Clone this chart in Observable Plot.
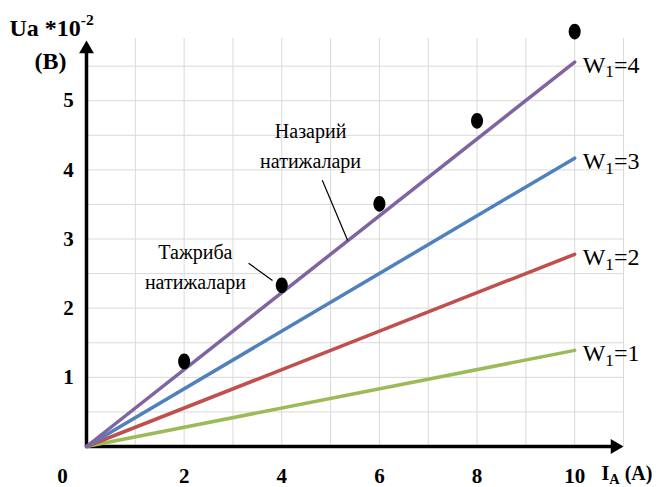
<!DOCTYPE html>
<html>
<head>
<meta charset="utf-8">
<script src="https://cdn.jsdelivr.net/npm/d3@7"></script>
<script src="https://cdn.jsdelivr.net/npm/@observablehq/plot@0.6"></script>
<style>
  html, body { margin: 0; padding: 0; background: #fff; }
</style>
</head>
<body>
<div id="chart"></div>
<script>
// ---- data ----
const seriesLabels = ["W_{1}=1", "W_{1}=2", "W_{1}=3", "W_{1}=4"];
const seriesEndX = 10;
const seriesEndY = [1.39, 2.78, 4.17, 5.56];
const seriesColors = ["#9BBB59", "#C0504D", "#4F81BD", "#8064A2"];

const expX = [2, 4, 6, 8, 10];
const expY = [1.23, 2.33, 3.51, 4.71, 6.0];

const xTicks = [2, 4, 6, 8, 10];
const yTicks = [1, 2, 3, 4, 5];
const xGrid = [1, 2, 3, 4, 5, 6, 7, 8, 9, 10, 11];
const yGrid = [0.5, 1, 1.5, 2, 2.5, 3, 3.5, 4, 4.5, 5, 5.5];

const annLabels = ["Назарий\nнатижалари", "Тажриба\nнатижалари"];
const annX = [4.59, 2.23];
const annY = [4.39, 2.64];
const leaderX1 = [4.83, 3.32];
const leaderY1 = [3.85, 2.65];
const leaderX2 = [5.35, 3.81];
const leaderY2 = [2.98, 2.40];

const yTitle = "Ua *10^{-2}";
const yUnit = "(B)";
const xTitle = "I_{A} (A)";

// ---- derived tables ----
const lineData = seriesLabels.flatMap((s, i) => [
  {s, x: 0, y: 0},
  {s, x: seriesEndX, y: seriesEndY[i]}
]);
const endData = seriesLabels.map((s, i) => ({s, x: seriesEndX, y: seriesEndY[i]}));
const expData = expX.map((x, i) => ({x, y: expY[i]}));
const annData = annLabels.map((t, i) => ({t, x: annX[i], y: annY[i]}));
const leaders = annLabels.map((t, i) => ({x1: leaderX1[i], y1: leaderY1[i], x2: leaderX2[i], y2: leaderY2[i]}));

const XMAX = 11, YMAX = 5.9;
const FONT = "Liberation Serif";

// ellipse symbol (taller than wide)
const ellipse = {
  draw(ctx, size) {
    const r = Math.sqrt(size / Math.PI);
    const rx = r * 0.8, ry = r * 1.05, k = 0.5523;
    ctx.moveTo(0, -ry);
    ctx.bezierCurveTo(k * rx, -ry, rx, -k * ry, rx, 0);
    ctx.bezierCurveTo(rx, k * ry, k * rx, ry, 0, ry);
    ctx.bezierCurveTo(-k * rx, ry, -rx, k * ry, -rx, 0);
    ctx.bezierCurveTo(-rx, -k * ry, -k * rx, -ry, 0, -ry);
    ctx.closePath();
  }
};

const T = {fill: "#000"};

const chart = Plot.plot({
  width: 656,
  height: 487,
  marginLeft: 86,
  marginRight: 33,
  marginTop: 38,
  marginBottom: 41,
  style: {background: "#fff"},
  x: {domain: [0, XMAX], axis: null},
  y: {domain: [0, YMAX], axis: null},
  color: {domain: seriesLabels, range: seriesColors},
  marks: [
    Plot.ruleX(xGrid, {y1: 0, y2: YMAX, stroke: "#d9d9d9", strokeWidth: 1}),
    Plot.ruleY(yGrid, {x1: 0, x2: XMAX, stroke: "#d9d9d9", strokeWidth: 1}),
    // axes
    Plot.ruleY([0], {x1: 0, x2: XMAX - 0.1, stroke: "#000", strokeWidth: 3.5}),
    Plot.ruleX([0], {y1: 0, y2: YMAX - 0.1, stroke: "#000", strokeWidth: 3.5}),
    Plot.dot([XMAX], {x: d => d, y: 0, symbol: "triangle", r: 5.5, fill: "#000", rotate: 90, dx: -8.5}),
    Plot.dot([YMAX], {x: 0, y: d => d, symbol: "triangle", r: 5.5, fill: "#000", dy: 10.5}),
    // tick labels
    Plot.text(yTicks, {...T, x: 0, y: d => d, text: d => String(d), dx: -18, textAnchor: "middle", fontWeight: "bold", fontSize: 21}),
    Plot.text(xTicks, {...T, x: d => d, y: 0, text: d => String(d), dy: 30, textAnchor: "middle", fontWeight: "bold", fontSize: 21}),
    Plot.text([0], {...T, x: 0, y: 0, text: d => String(d), dx: -24, dy: 30, textAnchor: "middle", fontWeight: "bold", fontSize: 21}),
    // axis titles
    Plot.text([yTitle], {...T, x: 0, y: YMAX, text: d => d, dx: -77, dy: -3, textAnchor: "start", lineAnchor: "bottom", fontWeight: "bold", fontSize: 24}),
    Plot.text([yUnit], {...T, x: 0, y: YMAX, text: d => d, dx: -36, dy: 30, textAnchor: "middle", lineAnchor: "bottom", fontWeight: "bold", fontSize: 24}),
    Plot.text([xTitle], {...T, x: XMAX, y: 0, text: d => d, dx: -22, dy: 27, textAnchor: "start", fontWeight: "bold", fontSize: 20}),
    // series
    Plot.line(lineData, {x: "x", y: "y", z: "s", stroke: "s", strokeWidth: 3.5}),
    Plot.text(endData, {...T, x: "x", y: "y", text: "s", dx: 8, dy: 3, textAnchor: "start", fontSize: 24}),
    // experimental points
    Plot.dot(expData, {x: "x", y: "y", symbol: ellipse, r: 7.5, fill: "#000"}),
    // annotations
    Plot.link(leaders, {x1: "x1", y1: "y1", x2: "x2", y2: "y2", stroke: "#000", strokeWidth: 1.2}),
    Plot.text(annData, {...T, x: "x", y: "y", text: "t", textAnchor: "middle", lineHeight: 1.5, fontSize: 20})
  ]
});

document.getElementById("chart").appendChild(chart);
// font on every text element
chart.querySelectorAll("g, text, tspan").forEach(el => {
  if (el.tagName === "text" || el.hasAttribute("font-family")) el.setAttribute("font-family", FONT);
});
chart.setAttribute("font-family", FONT);

// rich text: _{..} subscript, ^{..} superscript
d3.select(chart).selectAll("text").each(function () {
  const s = this.textContent;
  if (!/[_^]\{/.test(s)) return;
  const parts = [];
  const re = /([_^])\{([^}]*)\}/g;
  let last = 0, m;
  while ((m = re.exec(s))) {
    if (m.index > last) parts.push({t: s.slice(last, m.index)});
    parts.push({t: m[2], mode: m[1]});
    last = re.lastIndex;
  }
  if (last < s.length) parts.push({t: s.slice(last)});
  const fs = parseFloat(getComputedStyle(this).fontSize) || 20;
  const el = d3.select(this);
  el.text(null);
  let shift = 0;
  for (const p of parts) {
    const ts = el.append("tspan").text(p.t);
    let target = 0;
    if (p.mode === "_") { target = 0.2; ts.attr("font-size", "72%"); }
    if (p.mode === "^") { target = -0.42; ts.attr("font-size", "65%"); }
    const delta = target - shift;
    if (delta !== 0) ts.attr("dy", (delta * fs) + "px");
    shift = target;
  }
});
</script>
</body>
</html>
